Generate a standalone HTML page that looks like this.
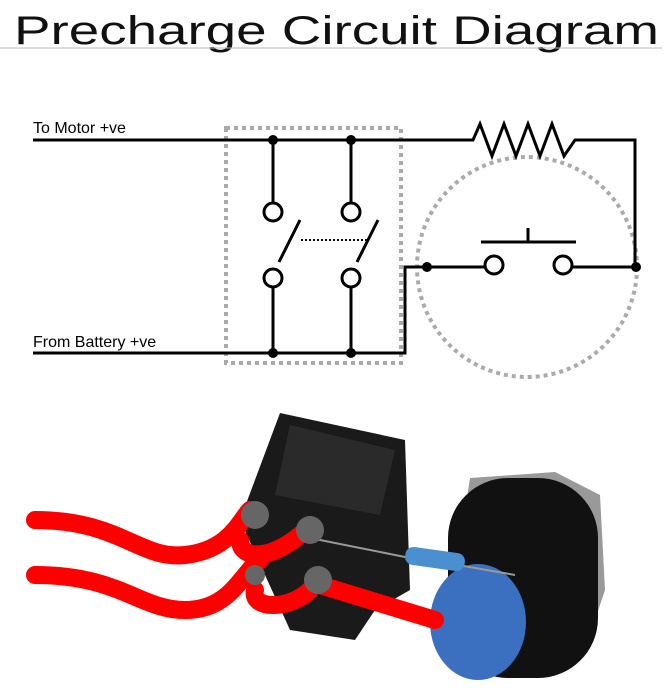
<!DOCTYPE html>
<html><head><style>body{margin:0;background:#fff}</style></head><body>
<svg width="670" height="683" viewBox="0 0 670 683" xmlns="http://www.w3.org/2000/svg">
<text x="14" y="44" font-family="Liberation Sans, sans-serif" font-size="40" font-weight="normal" fill="#111" textLength="645" lengthAdjust="spacingAndGlyphs">Precharge Circuit Diagram</text>
<line x1="0" y1="48" x2="662" y2="48" stroke="#bbb" stroke-width="1"/>
<g font-family="Liberation Sans, sans-serif" font-size="16" fill="#000">
<text x="33" y="133">To Motor +ve</text>
<text x="33" y="347">From Battery +ve</text></g>
<rect x="226" y="128" width="175" height="235" fill="none" stroke="#aaa" stroke-width="4" stroke-dasharray="4,4"/>
<circle cx="527" cy="267" r="110" fill="none" stroke="#aaa" stroke-width="4" stroke-dasharray="4,4"/>
<g stroke="#000" stroke-width="3" fill="none">
<polyline points="33,140 473,140 480,124 492,156 504,124 516,156 528,124 540,156 552,124 564,156 575,140 635,140 635,267"/>
<polyline points="33,353 405,353 405,267 484,267"/>
<line x1="573" y1="267" x2="636" y2="267"/>
<line x1="273" y1="140" x2="273" y2="203"/><line x1="351" y1="140" x2="351" y2="203"/>
<line x1="273" y1="287" x2="273" y2="353"/><line x1="351" y1="287" x2="351" y2="353"/>
<line x1="279" y1="262" x2="300" y2="220"/><line x1="357" y1="262" x2="378" y2="220"/>
<line x1="301" y1="240" x2="367" y2="240" stroke-width="2" stroke-dasharray="2,2"/>
<line x1="481" y1="242" x2="576" y2="242"/><line x1="528" y1="228" x2="528" y2="242"/>
<circle cx="273" cy="212" r="9" fill="#fff"/><circle cx="351" cy="212" r="9" fill="#fff"/>
<circle cx="273" cy="278" r="9" fill="#fff"/><circle cx="351" cy="278" r="9" fill="#fff"/>
<circle cx="494" cy="265" r="9" fill="#fff"/><circle cx="563" cy="265" r="9" fill="#fff"/>
</g>
<g fill="#000"><circle cx="273" cy="140" r="5"/><circle cx="351" cy="140" r="5"/><circle cx="273" cy="353" r="5"/><circle cx="351" cy="353" r="5"/><circle cx="427" cy="267" r="5"/><circle cx="636" cy="267" r="5"/></g>
<!-- photo -->
<polygon points="280,413 405,440 410,590 375,610 355,640 290,630 240,520" fill="#1a1a1a"/>
<polygon points="290,425 395,450 380,515 275,495" fill="#2a2a2a"/>
<polygon points="470,478 555,472 600,495 605,590 590,635 450,610" fill="#999"/>
<rect x="448" y="478" width="150" height="200" rx="60" fill="#111"/>
<ellipse cx="478" cy="622" rx="48" ry="58" fill="#3b6fc0"/>
<line x1="310" y1="538" x2="420" y2="560" stroke="#999" stroke-width="2"/>
<line x1="458" y1="565" x2="515" y2="575" stroke="#999" stroke-width="2"/>
<rect x="405" y="550" width="60" height="18" rx="8" fill="#4a90d0" transform="rotate(8 435 559)"/>
<g stroke="#f00" stroke-width="18" fill="none" stroke-linecap="round">
<path d="M35,520 C120,520 140,560 185,555 C230,550 240,520 250,510"/>
<path d="M35,575 C120,575 140,610 185,610 C230,610 240,575 260,560"/>
<path d="M300,535 C270,560 240,560 240,540"/>
<path d="M310,590 C290,610 250,610 255,590"/>
<path d="M320,585 L435,620"/>
</g>
<g fill="#666"><circle cx="255" cy="515" r="14"/><circle cx="310" cy="530" r="14"/><circle cx="318" cy="580" r="14"/><circle cx="255" cy="575" r="10"/></g>
</svg>
</body></html>
